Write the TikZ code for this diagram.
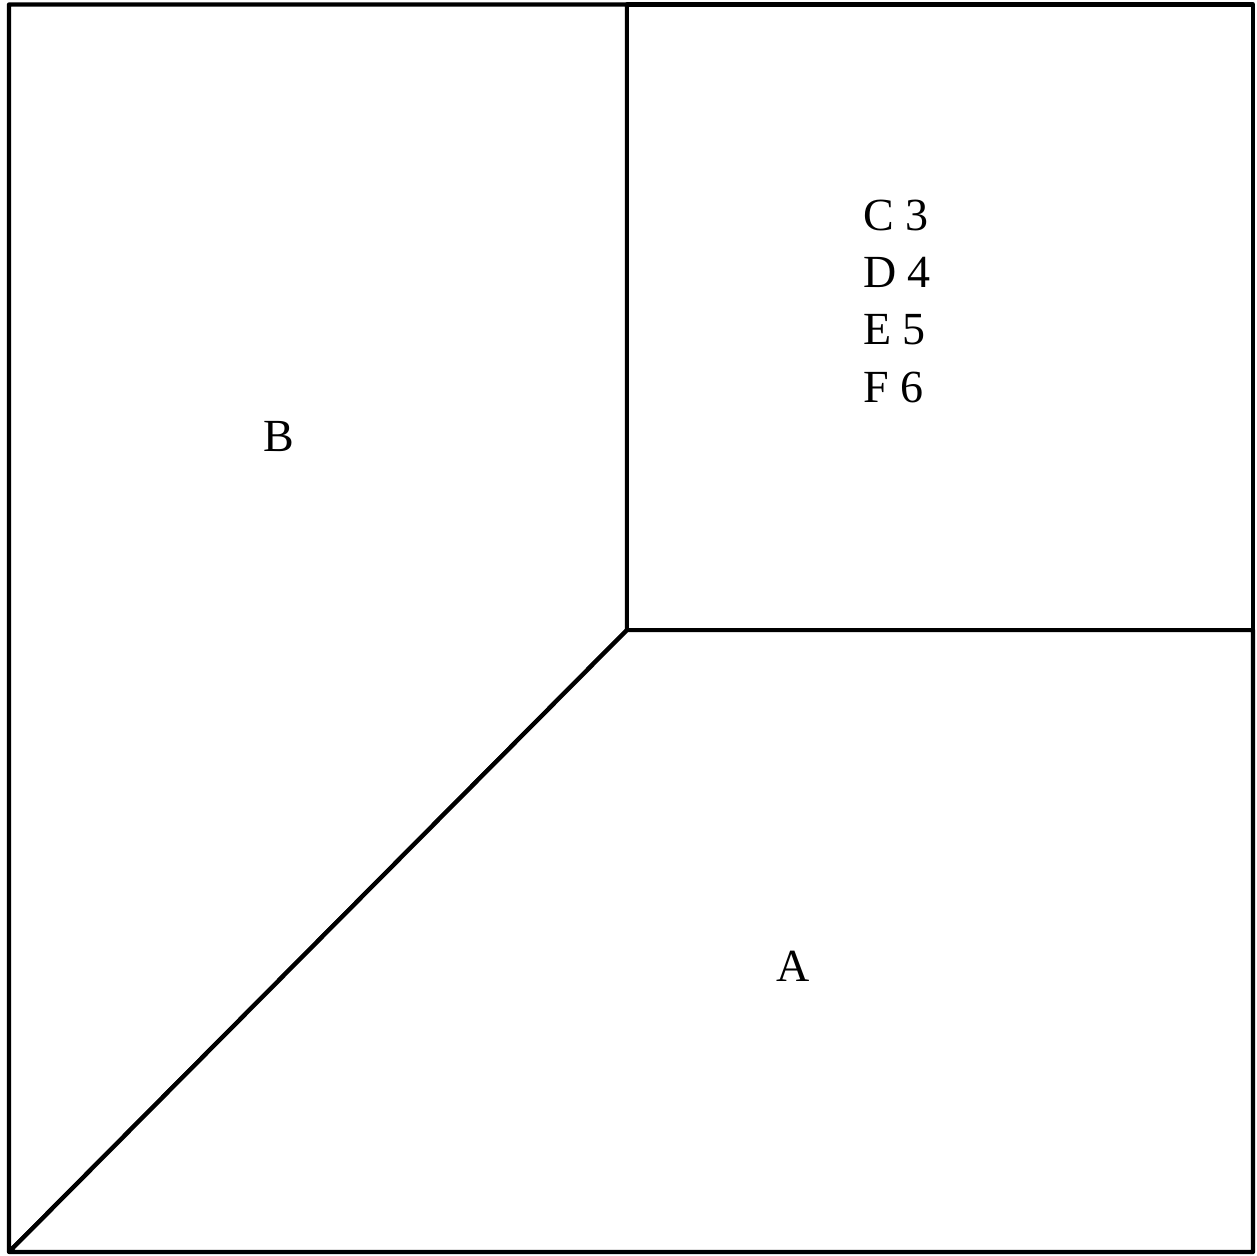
\documentclass[tikz,border=0pt]{standalone}
\usepackage{fontspec}
\setmainfont{Liberation Serif}
\usepackage{tikz}
\usetikzlibrary{positioning, calc}

\begin{document}
\begin{tikzpicture}[x=0.75pt, y=-0.75pt,
    region/.style={draw=black, fill=white, line width=3.2pt, line join=round},
    lbl/.style={font=\fontsize{34.5}{43}\selectfont, inner sep=0pt}]
  \useasboundingbox (0,0) rectangle (1257,1256);
  % Corners
  \coordinate (tl) at (9,4.5);
  \coordinate (tm) at (627,4.5);
  \coordinate (tr) at (1253,4.5);
  \coordinate (mid) at (627,630);
  \coordinate (mr) at (1253,630);
  \coordinate (bl) at (9,1252);
  \coordinate (br) at (1253,1252);
  % Regions
  \draw[region] (tl) -- (tm) -- (mid) -- (bl) -- cycle;
  \draw[region] (bl) -- (mid) -- (mr) -- (br) -- cycle;
  \draw[region] (tm) -- (tr) -- (mr) -- (mid) -- cycle;
  % Labels
  \node[lbl] (labB) at (279,437) {B};
  \node[lbl] (labA) at (793,966) {A};
  \node[lbl, align=left] (labCF) at (897,301) {C 3\\D 4\\E 5\\F 6};
\end{tikzpicture}
\end{document}
